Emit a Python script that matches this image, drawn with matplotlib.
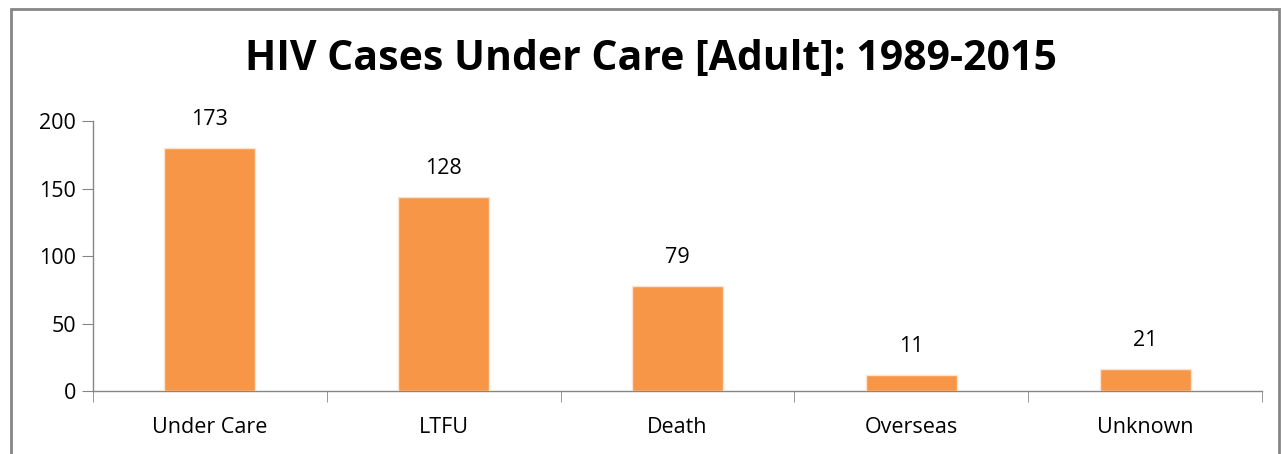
import matplotlib
matplotlib.use("Agg")
import matplotlib.pyplot as plt
from matplotlib.patches import Rectangle

categories = ["Under Care", "LTFU", "Death", "Overseas", "Unknown"]
bar_heights = [180, 144, 78, 12, 16]
label_texts = ["173", "128", "79", "11", "21"]
y_ticks = [0, 50, 100, 150, 200]

FONT = "Open Sans"
FS = 15.5
W, H = 1282, 454
fig = plt.figure(figsize=(W / 100, H / 100), dpi=100)
ax = fig.add_axes([93 / W, 1 - 391 / H, (1262 - 93) / W, (391 - 121) / H])

x = list(range(len(categories)))
bars = ax.bar(x, bar_heights, width=0.39, color="#F79646",
              edgecolor="#FBE3D2", linewidth=1.0, zorder=3)

ax.set_xlim(-0.5, len(categories) - 0.5)
ax.set_ylim(0, 200)
ax.set_yticks(y_ticks)
ax.set_yticklabels([str(v) for v in y_ticks], fontfamily=FONT, fontsize=FS)
ax.set_xticks(x)
ax.set_xticklabels(categories, fontfamily=FONT, fontsize=FS)
ax.set_xticks([i - 0.5 for i in range(len(categories) + 1)], minor=True)
ax.tick_params(axis="x", which="major", length=0, pad=19)
ax.tick_params(axis="x", which="minor", length=8, color="#868686", direction="out")
ax.tick_params(axis="y", which="major", length=8, color="#868686", direction="out", pad=4)

for s in ["top", "right"]:
    ax.spines[s].set_visible(False)
for s in ["left", "bottom"]:
    ax.spines[s].set_color("#868686")
    ax.spines[s].set_linewidth(1.0)

for xi, h, t in zip(x, bar_heights, label_texts):
    ax.annotate(t, (xi, h), xytext=(0, 20.5), textcoords="offset points",
                ha="center", va="center", fontfamily=FONT, fontsize=FS,
                annotation_clip=False)

fig.text(651 / W, 1 - 60 / H, "HIV Cases Under Care [Adult]: 1989-2015",
         ha="center", va="center", fontfamily=FONT, fontweight="bold", fontsize=29.5)

fig.patches.append(Rectangle((11 / W, -0.1), (1279 - 11) / W, 1.1 - 9 / H,
                             transform=fig.transFigure, fill=False,
                             edgecolor="#868686", linewidth=2))

fig.savefig("out.png", dpi=100)
